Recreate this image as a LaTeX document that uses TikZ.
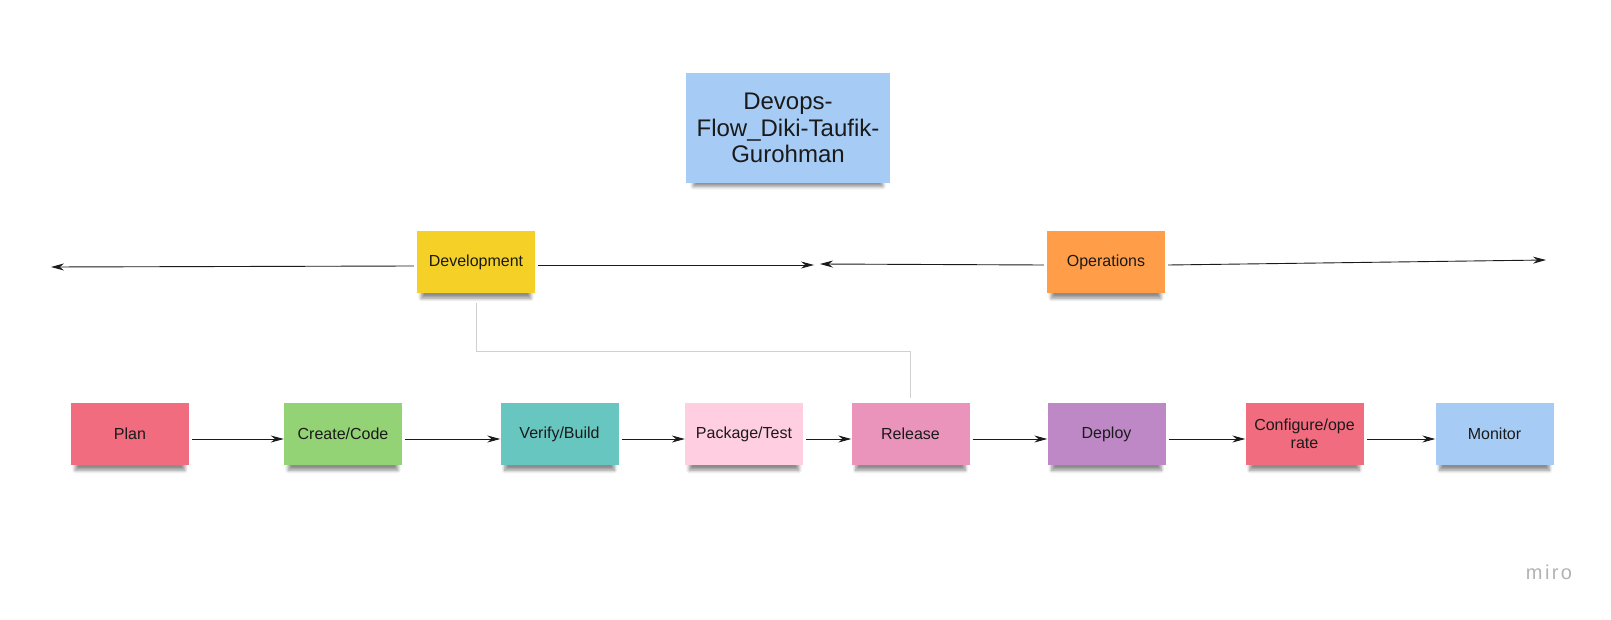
\documentclass[tikz,border=0pt]{standalone}
\usepackage{fontspec}
\setmainfont{Liberation Sans}
\usetikzlibrary{arrows.meta,shadows.blur}

\definecolor{notered}{HTML}{F16C7F}
\definecolor{notegreen}{HTML}{93D275}
\definecolor{noteteal}{HTML}{67C6C0}
\definecolor{notelightpink}{HTML}{FFCEE0}
\definecolor{notepink}{HTML}{EA94BB}
\definecolor{notepurple}{HTML}{BE88C7}
\definecolor{noteblue}{HTML}{A6CCF5}
\definecolor{noteyellow}{HTML}{F5D128}
\definecolor{noteorange}{HTML}{FF9D48}
\definecolor{inkdark}{HTML}{1A1A1A}
\definecolor{linkgray}{HTML}{D0D0D0}

\tikzset{
  note/.style={fill=#1, minimum width=118pt, minimum height=62pt, inner sep=2pt,
    align=center, text=inkdark, font=\fontsize{16}{18}\selectfont,
    blur shadow={shadow xshift=0pt, shadow yshift=-8pt, shadow scale=0.93,
      shadow blur steps=6, shadow blur radius=3.5pt, shadow opacity=45}},
  flow/.style={draw=inkdark, line width=0.9pt, -{Stealth[length=13pt,width=7pt]}},
  link/.style={draw=linkgray, line width=1pt}
}

\begin{document}
\begin{tikzpicture}[x=1pt,y=-1pt]
\useasboundingbox (0,0) rectangle (1611,620);
% title
\node[note=noteblue, minimum width=204pt, minimum height=110pt,
  font=\fontsize{24}{26.5}\selectfont] (title) at (788,128) {Devops-\\Flow\_Diki-Taufik-\\Gurohman};
% phases
\node[note=noteyellow] (dev) at (476,262) {Development};
\node[note=noteorange] (ops) at (1106,262) {Operations};
\coordinate (devL) at (51,267);
\coordinate (devR) at (814,265);
\coordinate (opsL) at (820,264);
\coordinate (opsR) at (1546,260);
\draw[flow] ([xshift=-3pt,yshift=-4pt]dev.west) -- (devL);
\draw[flow] ([xshift=3pt,yshift=-3pt]dev.east) -- (devR);
\draw[flow] ([xshift=-3pt,yshift=-3pt]ops.west) -- (opsL);
\draw[flow] ([xshift=3pt,yshift=-3pt]ops.east) -- (opsR);
% steps
\node[note=notered] (plan) at (130,434) {Plan};
\node[note=notegreen] (code) at (343,434) {Create/Code};
\node[note=noteteal] (build) at (559.5,434) {Verify/Build};
\node[note=notelightpink] (test) at (744,434) {Package/Test};
\node[note=notepink] (rel) at (910.5,434) {Release};
\node[note=notepurple] (deploy) at (1106.5,434) {Deploy};
\node[note=notered] (conf) at (1304.5,434) {Configure/ope\\rate};
\node[note=noteblue] (mon) at (1494.5,434) {Monitor};
\foreach \a/\b in {plan/code,code/build,build/test,test/rel,rel/deploy,deploy/conf,conf/mon}
  \draw[flow, shorten <=3pt] ([yshift=-5pt]\a.east) -- ([yshift=-5pt]\b.west);
% link from development to release
\draw[link] ([yshift=-10pt]dev.south) -- ++(0,48) -| ([yshift=5pt]rel.north);
% watermark
\node[text=black!30, font=\addfontfeatures{LetterSpace=12}\fontsize{20}{20}\selectfont] (miro) at (1549,572) {miro};
\end{tikzpicture}
\end{document}
